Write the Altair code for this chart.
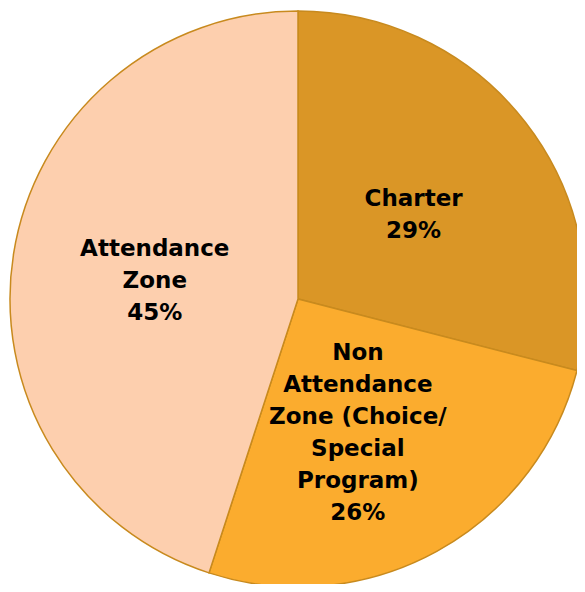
import altair as alt
import pandas as pd

categories = ["Charter", "Non Attendance Zone (Choice/ Special Program)", "Attendance Zone"]
labels = ["Charter\n29%", "Non\nAttendance\nZone (Choice/\nSpecial\nProgram)\n26%", "Attendance\nZone\n45%"]
values = [29, 26, 45]
colors = ["#DA9626", "#FBAC2E", "#FDCFAE"]

df = pd.DataFrame({"category": categories, "label": labels, "value": values, "order": [0, 1, 2]})

CX, CY, R = 290, 291, 288

arcs = alt.Chart(df).mark_arc(outerRadius=R, stroke="#C88A1E", strokeWidth=1.5).encode(
    theta=alt.Theta("value:Q", stack=True),
    order=alt.Order("order:Q"),
    x=alt.value(CX),
    y=alt.value(CY),
    color=alt.Color("category:N", scale=alt.Scale(domain=categories, range=colors), legend=None),
)

tbase = alt.Chart(df).transform_window(
    cum="sum(value)", sort=[alt.SortField("order")]
).transform_calculate(mid="datum.cum - datum.value / 2")

offsets = {0: (1, -11), 1: (-10, -73), 2: (0, -27)}
text_layers = []
for i, (ddx, ddy) in offsets.items():
    text_layers.append(
        tbase.transform_filter(alt.datum.order == i).mark_text(
            radius=145, lineBreak="\n", fontSize=23, fontWeight="bold", font="DejaVu Sans",
            color="black", lineHeight=32, align="center", baseline="middle", dx=ddx, dy=ddy
        ).encode(
            theta=alt.Theta("mid:Q", stack=None, scale=alt.Scale(domain=[0, 100])),
            x=alt.value(CX),
            y=alt.value(CY),
            text="label:N",
        )
    )

chart = alt.layer(arcs, *text_layers).properties(
    width=569, height=576,
    autosize=alt.AutoSizeParams(type="none"),
    padding=0,
    background="white",
).configure_view(stroke="transparent", strokeWidth=0)

chart.save("out.html", embed_options={"renderer": "svg", "actions": False})
